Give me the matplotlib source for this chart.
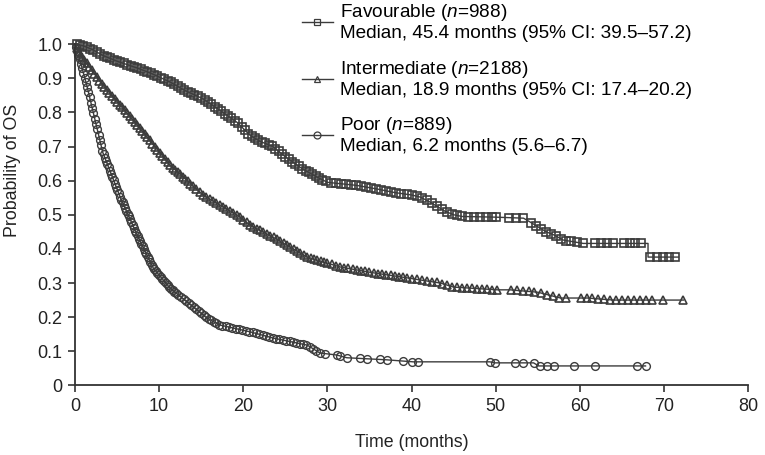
import numpy as np
import matplotlib
matplotlib.use("Agg")
import matplotlib.pyplot as plt

plt.rcParams['font.family'] = ['Liberation Sans', 'DejaVu Sans']
plt.rcParams['mathtext.fontset'] = 'custom'
plt.rcParams['mathtext.it'] = 'Liberation Sans:italic'
plt.rcParams['mathtext.rm'] = 'Liberation Sans'

# Kaplan-Meier curves (months, probability)
fav_t = [0, 1, 2, 3.3, 5, 7.4, 9, 11.3, 13, 15.2, 17, 19.3, 20.8, 22, 23.5, 25, 27, 28.8, 30,
         33.5, 36, 38, 40, 41, 42, 43, 44, 45, 46, 50, 53.3, 54, 55, 56, 57, 58, 60.4, 64.2, 68.1, 68.1, 71.7]
fav_p = [1.0, 0.995, 0.985, 0.967, 0.95, 0.93, 0.915, 0.889, 0.865, 0.84, 0.81, 0.77, 0.733, 0.715, 0.70,
         0.67, 0.635, 0.61, 0.595, 0.586, 0.575, 0.565, 0.558, 0.552, 0.54, 0.525, 0.51, 0.50, 0.495,
         0.493, 0.49, 0.48, 0.465, 0.45, 0.44, 0.426, 0.416, 0.416, 0.416, 0.376, 0.376]

int_t = [0, 0.6, 3.3, 7.4, 11.3, 15.2, 19.3, 20.8, 23.5, 27.6, 31.5, 35.4, 39.5, 41, 43.4, 45, 50.2,
         51.7, 55, 57.7, 60.9, 64, 72.3]
int_p = [1.0, 0.97, 0.88, 0.763, 0.645, 0.558, 0.499, 0.47, 0.435, 0.376, 0.347, 0.33, 0.315, 0.309,
         0.30, 0.288, 0.28, 0.28, 0.273, 0.256, 0.256, 0.25, 0.25]

poor_t = [0, 0.5, 1.4, 3.3, 5.4, 7.4, 9.3, 11.3, 13.3, 15.7, 17.2, 20.8, 23.5, 27.6, 29.1, 31.1, 32.3,
          37, 40.2, 49.3, 49.9, 54.5, 55.1, 67.8]
poor_p = [1.0, 0.96, 0.88, 0.683, 0.55, 0.44, 0.344, 0.285, 0.245, 0.197, 0.177, 0.157, 0.139, 0.118,
          0.095, 0.089, 0.081, 0.075, 0.069, 0.069, 0.066, 0.066, 0.057, 0.057]

# censoring marks (months)
fav_cens = [0.2, 0.6, 1.0, 1.4, 1.8, 2.2, 2.6, 3.0, 3.4, 3.8, 4.2, 4.6, 5.0, 5.4, 5.8, 6.2, 6.6, 7.0,
            7.4, 7.8, 8.2, 8.6, 9.0, 9.4, 9.8, 10.2, 10.6, 11.0, 11.4, 11.8, 12.2, 12.6, 13.0, 13.4,
            13.8, 14.2, 14.6, 15.0, 15.4, 15.8, 16.2, 16.6, 17.0, 17.4, 17.8, 18.2, 18.6, 19.0, 19.4,
            19.8, 20.2, 20.6, 21.0, 21.4, 21.8, 22.2, 22.6, 23.0, 23.4, 23.8, 24.2, 24.6, 25.0, 25.4,
            25.8, 26.2, 26.6, 27.0, 27.4, 27.8, 28.2, 28.6, 29.0, 29.4, 29.8, 30.4, 31.0, 31.6, 32.2,
            32.8, 33.4, 34.0, 34.6, 35.2, 35.8, 36.4, 37.0, 37.6, 38.2, 38.8, 39.4, 40.0, 40.6, 41.2,
            41.8, 42.4, 43.0, 43.6, 44.2, 44.8, 45.4, 46.0, 46.7, 47.4, 48.1, 48.8, 49.5, 50.0, 51.6,
            52.4, 53.2, 54.2, 54.8, 55.4, 56.0, 56.6, 57.2, 57.8, 58.4, 59.0, 59.6, 60.4, 61.8, 62.5,
            63.2, 63.9, 65.2, 65.9, 66.6, 67.3, 68.3, 69.2, 69.9, 70.6, 71.3]
int_cens = [0.2, 0.5, 0.8, 1.1, 1.4, 1.7, 2.0, 2.3, 2.6, 2.9, 3.2, 3.5, 3.8, 4.1, 4.4, 4.7, 5.0, 5.3,
            5.6, 5.9, 6.2, 6.5, 6.8, 7.1, 7.4, 7.7, 8.0, 8.3, 8.6, 8.9, 9.2, 9.5, 9.8, 10.1, 10.4,
            10.7, 11.0, 11.3, 11.6, 11.9, 12.2, 12.5, 12.8, 13.1, 13.4, 13.7, 14.0, 14.4, 14.8, 15.2,
            15.6, 16.0, 16.4, 16.8, 17.2, 17.6, 18.0, 18.4, 18.8, 19.2, 19.6, 20.0, 20.4, 20.8, 21.2,
            21.6, 22.0, 22.4, 22.8, 23.2, 23.6, 24.0, 24.4, 24.8, 25.2, 25.6, 26.0, 26.4, 26.8, 27.2,
            27.6, 28.0, 28.4, 28.8, 29.2, 29.6, 30.0, 30.5, 31.0, 31.5, 32.0, 32.5, 33.0, 33.5, 34.0,
            34.5, 35.0, 35.5, 36.0, 36.5, 37.0, 37.5, 38.0, 38.5, 39.0, 39.5, 40.0, 40.6, 41.2, 41.8,
            42.4, 43.0, 43.6, 44.2, 44.8, 45.4, 46.0, 46.6, 47.2, 47.8, 48.4, 49.0, 49.6, 50.2, 51.8,
            52.5, 53.2, 53.9, 54.6, 55.4, 56.1, 56.8, 57.5, 58.3, 60.1, 60.8, 61.5, 62.2, 62.9, 63.6,
            64.3, 65.0, 65.7, 66.4, 67.1, 67.8, 68.6, 69.9, 72.3]
poor_cens = [0.1, 0.25, 0.4, 0.55, 0.7, 0.85, 1.0, 1.15, 1.3, 1.45, 1.6, 1.75, 1.9, 2.05, 2.2, 2.35,
             2.5, 2.65, 2.8, 2.95, 3.1, 3.25, 3.4, 3.55, 3.7, 3.85, 4.0, 4.15, 4.3, 4.45, 4.6, 4.75,
             4.9, 5.05, 5.2, 5.35, 5.5, 5.65, 5.8, 5.95, 6.1, 6.25, 6.4, 6.55, 6.7, 6.85, 7.0, 7.15,
             7.3, 7.45, 7.6, 7.75, 7.9, 8.05, 8.2, 8.35, 8.5, 8.65, 8.8, 8.95, 9.1, 9.25, 9.4, 9.6,
             9.8, 10.0, 10.2, 10.4, 10.6, 10.8, 11.0, 11.2, 11.4, 11.6, 11.8, 12.0, 12.3, 12.6, 12.9,
             13.2, 13.5, 13.8, 14.1, 14.4, 14.7, 15.0, 15.3, 15.6, 15.9, 16.2, 16.5, 16.8, 17.1, 17.5,
             17.9, 18.3, 18.7, 19.1, 19.5, 19.9, 20.3, 20.7, 21.1, 21.5, 21.9, 22.3, 22.7, 23.1, 23.5,
             23.9, 24.3, 24.7, 25.1, 25.5, 25.9, 26.3, 26.7, 27.1, 27.5, 27.9, 28.3, 28.7, 29.1, 29.7,
             31.1, 31.5, 32.3, 33.9, 34.7, 36.3, 37.1, 39.0, 40.0, 40.8, 49.3, 49.9, 52.3, 53.3, 54.5,
             55.3, 56.1, 56.9, 59.3, 61.8, 66.8, 67.8]

labels = ["Favourable ($\\mathit{n}$=988)\nMedian, 45.4 months (95% CI: 39.5\u201357.2)",
          "Intermediate ($\\mathit{n}$=2188)\nMedian, 18.9 months (95% CI: 17.4\u201320.2)",
          "Poor ($\\mathit{n}$=889)\nMedian, 6.2 months (5.6\u20136.7)"]

gray = '#3c3c3c'
fig = plt.figure(figsize=(7.65, 4.55), dpi=100)
ax = fig.add_axes([0.098, 0.153, 0.880, 0.750])

series = [(fav_t, fav_p, fav_cens, 's', 5.6, 1.2),
          (int_t, int_p, int_cens, '^', 5.8, 1.2),
          (poor_t, poor_p, poor_cens, 'o', 5.6, 1.0)]
handles = []
for (t, p, cens, mk, ms, mw), lab in zip(series, labels):
    ax.plot(t, p, color=gray, lw=1.0, clip_on=False)
    ax.plot(cens, np.interp(cens, t, p), ls='none', marker=mk, ms=ms, mfc='none',
            mec=gray, mew=mw, clip_on=False)
    h, = ax.plot([], [], color=gray, lw=1.0, marker=mk, ms=5, mfc='none', mec=gray, mew=0.9)
    handles.append(h)

leg = ax.legend(handles, labels, loc='upper left', bbox_to_anchor=(0.3255, 1.145),
                frameon=False, fontsize=13.7, handlelength=1.65, handletextpad=0.35,
                labelspacing=0.85, borderaxespad=0)
for txt in leg.get_texts():
    txt.set_linespacing(1.17)

ax.set_xlim(0, 80)
ax.set_ylim(0, 1.0)
ax.set_xticks(np.arange(0, 81, 10))
ax.set_yticks(np.arange(0, 1.01, 0.1))
ax.set_yticklabels(['0'] + ['%.1f' % v for v in np.arange(0.1, 1.01, 0.1)])
for s in ['top', 'right']:
    ax.spines[s].set_visible(False)
for s in ['left', 'bottom']:
    ax.spines[s].set_color('#333333')
    ax.spines[s].set_linewidth(1.3)
ax.tick_params(direction='out', length=5, width=1.2, color='#333333', labelsize=13,
               labelcolor='#222222', pad=4)
ax.set_xlabel('Time (months)', fontsize=12.8, color='#222222', labelpad=14)
ax.set_ylabel('Probability of OS', fontsize=12.8, color='#222222')
ax.yaxis.set_label_coords(-0.08, 0.63)

fig.savefig('out.png', dpi=100)
